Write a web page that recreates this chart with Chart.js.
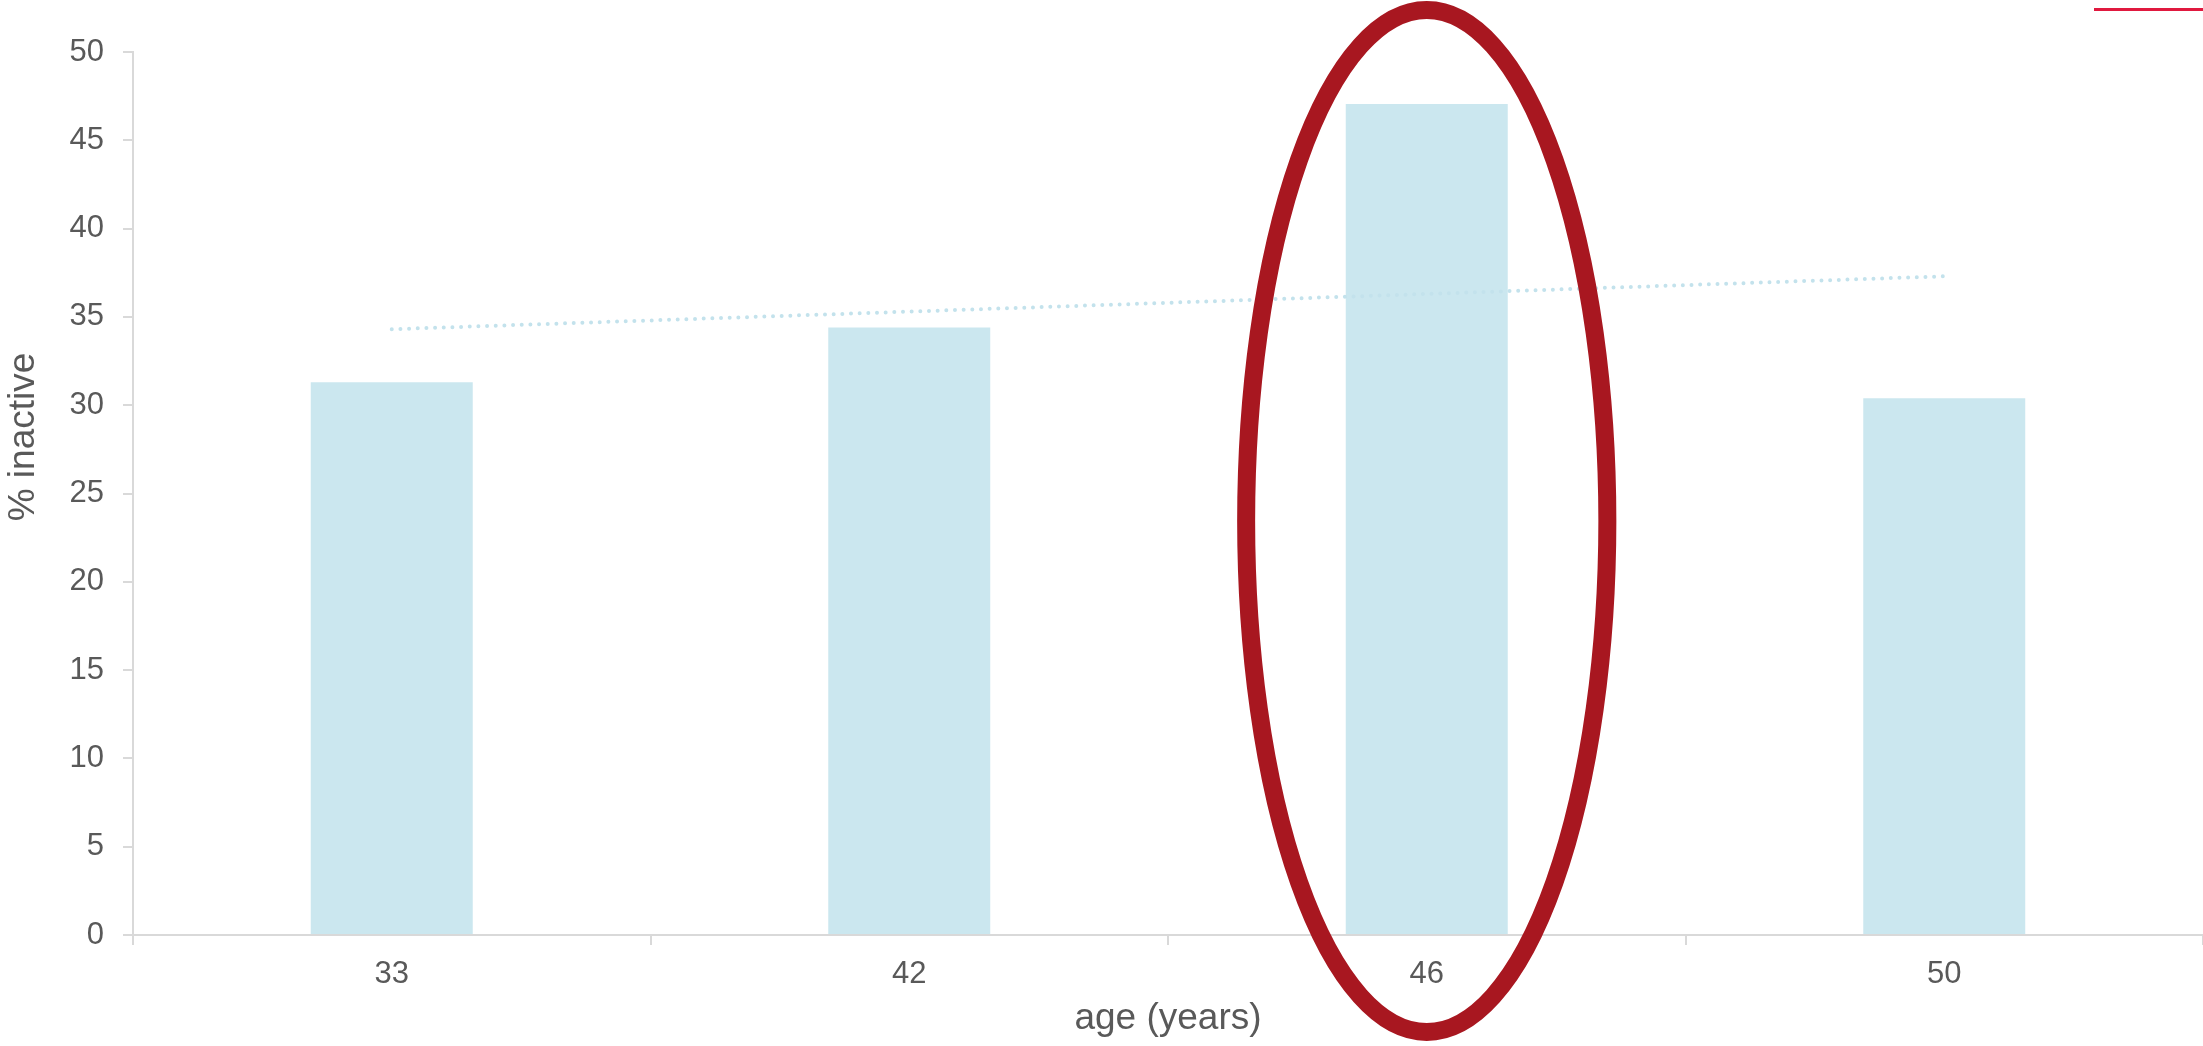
<!DOCTYPE html>
<html>
<head>
<meta charset="utf-8">
<style>
    html, body { margin: 0; padding: 0; background: #fff; }
    #wrap { width: 2203px; height: 1046px; }
</style>
<script src="https://cdn.jsdelivr.net/npm/chart.js@4.4.1/dist/chart.umd.min.js"></script>
</head>
<body>
<div id="wrap"><canvas id="inactive-chart" width="2203" height="1046"></canvas></div>
<script>
// ages of the sweeps and the share of inactive people
const ageLabels = ["33", "42", "46", "50"];
const inactiveValues = [31.3, 34.4, 47.05, 30.4];
const trendValues = [34.3, 35.3, 36.3, 37.3];
const yTicks = [0, 5, 10, 15, 20, 25, 30, 35, 40, 45, 50];
const highlightIndex = 2;

const textColor = '#595959';
const axisColor = '#d9d9d9';
const fontFamily = '"Liberation Sans", Arial, sans-serif';

// draws the y title a bit above centre, the red ring round one bar and the red mark at top right
const overlayPlugin = {
    id: 'overlay',
    afterDraw(chart) {
        const { ctx, chartArea, scales } = chart;
        const xs = scales.x;
        const catWidth = (chartArea.right - chartArea.left) / ageLabels.length;

        ctx.save();
        ctx.fillStyle = textColor;
        ctx.font = '37px ' + fontFamily;
        ctx.textAlign = 'center';
        ctx.textBaseline = 'alphabetic';
        ctx.translate(34, 437);
        ctx.rotate(-Math.PI / 2);
        ctx.fillText('% inactive', 0, 0);
        ctx.restore();

        ctx.save();
        ctx.strokeStyle = '#a81720';
        ctx.lineWidth = 18;
        ctx.beginPath();
        ctx.ellipse(xs.getPixelForValue(highlightIndex), chart.height / 2 - 2,
            catWidth * 0.349, chart.height / 2 - 12, 0, 0, Math.PI * 2);
        ctx.stroke();
        ctx.restore();

        ctx.save();
        ctx.strokeStyle = '#e0193f';
        ctx.lineWidth = 3;
        ctx.beginPath();
        ctx.moveTo(chart.width - 109, 9.5);
        ctx.lineTo(chart.width, 9.5);
        ctx.stroke();
        ctx.restore();
    }
};

const ctx = document.getElementById('inactive-chart').getContext('2d');

new Chart(ctx, {
    type: 'bar',
    data: {
        labels: ageLabels,
        datasets: [{
            type: 'line',
            label: 'Trend',
            data: trendValues,
            borderColor: '#c3e2ec',
            borderWidth: 4,
            borderDash: [0, 8.67],
            borderCapStyle: 'round',
            pointRadius: 0,
            fill: false,
            tension: 0,
            order: 0
        }, {
            label: '% inactive',
            data: inactiveValues,
            backgroundColor: '#cbe7ef',
            borderWidth: 0,
            categoryPercentage: 1,
            barPercentage: 0.313,
            order: 1
        }]
    },
    options: {
        responsive: false,
        animation: false,
        layout: {
            padding: { top: 52, right: 0, bottom: 0, left: 0 }
        },
        scales: {
            x: {
                offset: true,
                grid: {
                    display: true,
                    offset: true,
                    drawOnChartArea: false,
                    tickLength: 10,
                    color: axisColor,
                    lineWidth: 2
                },
                border: { color: axisColor, width: 2 },
                ticks: {
                    color: textColor,
                    padding: 11,
                    font: { family: fontFamily, size: 31 }
                },
                title: {
                    display: true,
                    text: 'age (years)',
                    color: textColor,
                    font: { family: fontFamily, size: 37 },
                    padding: { top: 0, bottom: 5 }
                },
                afterFit(scale) { scale.height = 111; }
            },
            y: {
                min: 0,
                max: 50,
                afterBuildTicks(scale) {
                    scale.ticks = yTicks.map(v => ({ value: v }));
                },
                grid: {
                    display: true,
                    drawOnChartArea: false,
                    tickLength: 10,
                    color: axisColor,
                    lineWidth: 2
                },
                border: { color: axisColor, width: 2 },
                ticks: {
                    color: textColor,
                    padding: 19,
                    font: { family: fontFamily, size: 31 }
                },
                title: { display: false },
                afterFit(scale) { scale.width = 133; }
            }
        },
        plugins: {
            legend: { display: false },
            tooltip: { enabled: false }
        }
    },
    plugins: [overlayPlugin]
});
</script>
</body>
</html>
